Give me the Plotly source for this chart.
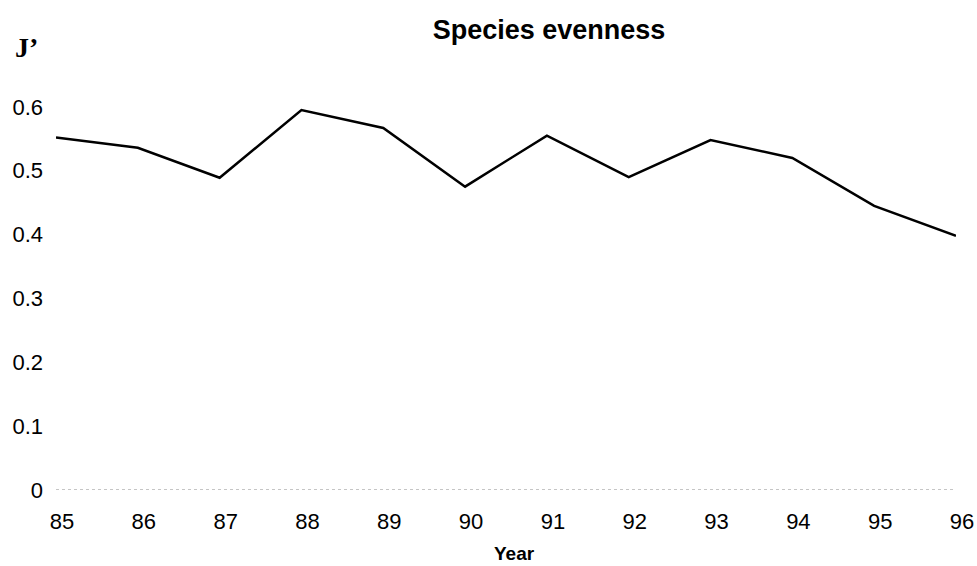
import plotly.graph_objects as go

years = [85, 86, 87, 88, 89, 90, 91, 92, 93, 94, 95, 96]
evenness = [0.552, 0.536, 0.489, 0.595, 0.567, 0.475, 0.555, 0.490, 0.548, 0.520, 0.445, 0.398]
x_tick_labels = [str(y) for y in years]
y_tick_vals = [0, 0.1, 0.2, 0.3, 0.4, 0.5, 0.6]
y_tick_labels = ["0", "0.1", "0.2", "0.3", "0.4", "0.5", "0.6"]

fig = go.Figure()
fig.add_trace(go.Scatter(x=years, y=evenness, mode="lines",
                         line=dict(color="black", width=2.5), showlegend=False))

# faint dotted baseline at zero
fig.add_shape(type="line", xref="paper", yref="y", x0=0, x1=1, y0=0, y1=0,
              line=dict(color="#8a8a8a", width=1, dash="dot"))

fig.update_layout(
    width=977, height=566,
    margin=dict(l=56, r=21, t=43, b=76, autoexpand=False),
    paper_bgcolor="white", plot_bgcolor="white",
    font=dict(family="Liberation Sans, Arial, sans-serif", color="black", size=20),
    title=dict(text="<b>Species evenness</b>", x=549/977, xanchor="center",
               y=1 - 30/566, yanchor="middle",
               font=dict(size=27, family="Liberation Sans, Arial, sans-serif")),
    xaxis=dict(range=[85, 96], tickvals=years, ticktext=x_tick_labels,
               showgrid=False, zeroline=False, showline=False, ticks="",
               automargin=False,
               ticklabelstandoff=16, ticklabelshift=6,
               tickfont=dict(size=22)),
    yaxis=dict(range=[0, 0.7], tickvals=y_tick_vals, ticktext=y_tick_labels,
               showgrid=False, zeroline=False, showline=False, ticks="",
               automargin=False,
               ticklabelstandoff=12, tickfont=dict(size=22)),
)

fig.add_annotation(text="<b>J’</b>", xref="paper", yref="paper",
                   x=(13 - 56) / 900, y=(490 - 47) / (490 - 43),
                   xanchor="left", yanchor="middle", showarrow=False,
                   font=dict(family="Liberation Serif, Times New Roman, serif", size=28))

fig.add_annotation(text="<b>Year</b>", xref="paper", yref="paper",
                   x=(514 - 56) / 900, y=(490 - 553) / (490 - 43),
                   xanchor="center", yanchor="middle", showarrow=False,
                   borderpad=0, font=dict(size=19))

fig.write_html("out.html",
               config={"displayModeBar": False},
               post_script="document.body.style.margin='0';document.body.style.overflow='hidden';")
